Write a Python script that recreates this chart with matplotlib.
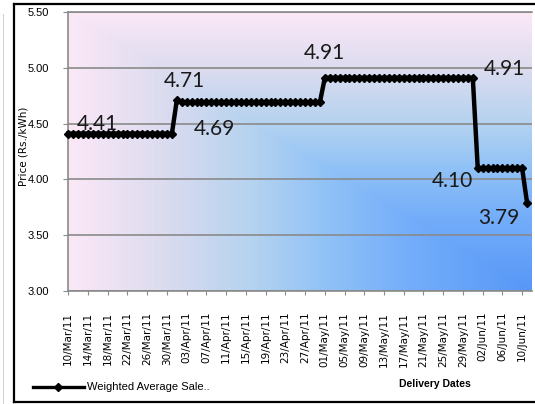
import numpy as np
import pandas as pd
import matplotlib
matplotlib.use("Agg")
import matplotlib.pyplot as plt
from matplotlib.colors import LinearSegmentedColormap
from matplotlib.lines import Line2D

# Daily weighted average sale price, one value per delivery date
start_date = "2011-03-10"
price_levels = [4.41, 4.71, 4.69, 4.91, 4.10, 3.79]
days_at_level = [22, 1, 29, 31, 10, 1]

dates = pd.date_range(start_date, periods=sum(days_at_level), freq="D")
prices = np.repeat(price_levels, days_at_level)
tick_step = 4
tick_labels = [d.strftime("%d/%b/%y") for d in dates[::tick_step]]

# points that carry a value label, and where the label sits (pixels from the point)
label_days = [0, 22, 23, 52, 82, 83, 93]
label_offsets = [(29, 4), (8, 13), (33, -33), (0, 19), (32, 3), (-25, -19), (-28, -21)]

W, H = 535, 404
fig = plt.figure(figsize=(W / 100, H / 100), dpi=100)
fig.patch.set_facecolor("white")


def fx(x):
    return x / W


def fy(y):
    return 1 - y / H


left, right, top, bottom = 68.3, 532, 12, 291
ax = fig.add_axes([fx(left), fy(bottom), fx(right - left), (bottom - top) / H])

# corner gradient: pink away from the lower-right corner, blue towards it
cmap = LinearSegmentedColormap.from_list(
    "bg",
    [(0.0, "#5797f7"), (0.25, "#72acfa"), (0.45, "#92c3f6"),
     (0.6, "#b4d2f0"), (0.8, "#dcdcef"), (1.0, "#fbe8f7")],
)
xf = np.linspace(0, 1, 400)
yf = np.linspace(1, 0, 300)
t = np.maximum(1 - xf[None, :], yf[:, None])
ax.imshow(t, cmap=cmap, vmin=0, vmax=1, extent=(0, 1, 0, 1),
          transform=ax.transAxes, aspect="auto", zorder=0,
          interpolation="bilinear")

x = np.arange(len(prices))
ax.plot(x, prices, color="black", lw=3.2, marker="D", markersize=3.6,
        markeredgecolor="black", zorder=3, clip_on=False)

label_font = dict(family=["Lato", "DejaVu Sans"], size=15, color="#1a1a1a")
for d, (dx, dy) in zip(label_days, label_offsets):
    ax.annotate(f"{prices[d]:.2f}", xy=(x[d], prices[d]), xytext=(dx, dy),
                textcoords="offset pixels", ha="center", va="baseline",
                zorder=4, **label_font)

ax.set_xlim(0, 94)
ax.set_ylim(3.0, 5.5)
yticks = np.arange(3.0, 5.51, 0.5)
ax.set_yticks(yticks)
ax.set_yticklabels([f"{v:.2f}" for v in yticks], family="Liberation Sans", fontsize=8)
ax.set_xticks(x[::tick_step])
ax.set_xticklabels(tick_labels, rotation=90, ha="center", va="top",
                   family="DejaVu Sans", fontsize=7.5)

ax.grid(axis="y", color="#8a8a8a", lw=1.2, zorder=1)
ax.set_axisbelow(True)
ax.spines["right"].set_visible(False)
for side in ["left", "bottom", "top"]:
    ax.spines[side].set_color("#8a8a8a")
    ax.spines[side].set_linewidth(1.2)
ax.tick_params(axis="y", direction="out", length=3.6, color="#8a8a8a", pad=10)
ax.tick_params(axis="x", direction="out", length=3, color="#8a8a8a", pad=12)

ax.set_ylabel("Price (Rs./kWh)", family="DejaVu Sans", fontsize=7.5)
ax.yaxis.set_label_coords((28 - left) / (right - left), 0.52)

# chart frame
fig.add_artist(Line2D([fx(14), fx(14)], [fy(4), fy(402)], color="black", lw=1.6))
fig.add_artist(Line2D([fx(14), fx(535)], [fy(4), fy(4)], color="black", lw=1.6))
fig.add_artist(Line2D([fx(14), fx(535)], [fy(402), fy(402)], color="black", lw=1.6))
fig.add_artist(Line2D([fx(3), fx(3)], [fy(14), fy(404)], color="#d4d4d4", lw=0.8))

# legend and axis title along the bottom
fig.add_artist(Line2D([fx(33), fx(84)], [fy(387), fy(387)], color="black", lw=2.4))
fig.add_artist(Line2D([fx(58)], [fy(387)], color="black", marker="D", markersize=4))
fig.text(fx(87), fy(387), "Weighted Average Sale..", family="Liberation Sans",
         fontsize=8, ha="left", va="center")
fig.text(fx(434.5), fy(384), "Delivery Dates", family="Liberation Sans",
         fontsize=7.5, ha="center", va="center", fontweight="bold")

fig.savefig("out.png", dpi=100)
